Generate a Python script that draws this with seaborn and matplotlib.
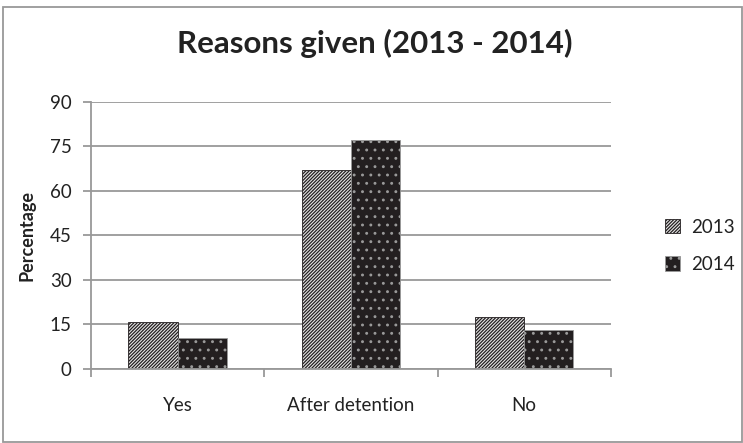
import numpy as np
import pandas as pd
import matplotlib
matplotlib.use('Agg')
import matplotlib.pyplot as plt
from matplotlib.patches import Patch, Rectangle
import seaborn as sns

# data
categories = ['Yes', 'After detention', 'No']
years = ['2013', '2014']
pct_2013 = [15.8, 66.9, 17.6]
pct_2014 = [10.4, 77.3, 13.2]

df = pd.DataFrame({
    'reason': categories * 2,
    'year': [years[0]] * 3 + [years[1]] * 3,
    'pct': pct_2013 + pct_2014,
})

sns.set_theme(style='white')
plt.rcParams['font.family'] = ['Lato', 'DejaVu Sans']
plt.rcParams['hatch.linewidth'] = 0.9

fig = plt.figure(figsize=(7.43, 4.43), dpi=100)
ax = fig.add_axes([0.1225, 0.167, 0.6995, 0.603])

sns.barplot(data=df, x='reason', y='pct', hue='year', order=categories,
            hue_order=years, width=0.57, gap=0, palette=['#d9d9d9', '#231f20'],
            legend=False, ax=ax)

styles = [dict(hatch='/' * 10, edgecolor='#231f20', fc='#e6e6e6'),
          dict(hatch='..', edgecolor='#9a9a9a', fc='#231f20')]
for cont, st in zip(ax.containers, styles):
    for bar in cont:
        bar.set_hatch(st['hatch'])
        bar.set_edgecolor(st['edgecolor'])
        bar.set_facecolor(st['fc'])
        bar.set_linewidth(0.6)

ax.set_ylim(0, 90)
ax.set_yticks(np.arange(0, 91, 15))
ax.set_xlim(-0.5, 2.5)
ax.yaxis.grid(True, color='#999999', linewidth=1.3)
ax.set_axisbelow(True)
for side in ['top', 'right']:
    ax.spines[side].set_visible(False)
for side in ['left', 'bottom']:
    ax.spines[side].set_color('#999999')
    ax.spines[side].set_linewidth(1.3)

# category-boundary ticks, Excel style
ax.set_xticks([-0.5, 0.5, 1.5, 2.5], minor=False)
ax.set_xticklabels([])
ax.set_xticks([0, 1, 2], minor=True)
ax.set_xticklabels(categories, minor=True, fontsize=13.5, color='#222222')
ax.tick_params(axis='x', which='major', length=6, width=1.3, color='#999999', direction='out')
ax.tick_params(axis='x', which='minor', length=0, pad=20)
ax.tick_params(axis='y', length=6, width=1.3, color='#999999', direction='out',
               labelsize=13.5, labelcolor='#222222', pad=8)
ax.tick_params(bottom=True, left=True)

ax.set_xlabel('')
ax.set_ylabel('Percentage', fontsize=13, fontweight='bold', color='#222222', labelpad=10)
fig.suptitle('Reasons given (2013 - 2014)', x=0.505, y=0.935, fontsize=22.5,
             fontweight='bold', color='#222222')

handles = [Patch(facecolor=styles[0]['fc'], edgecolor=styles[0]['edgecolor'],
                 hatch=styles[0]['hatch'], linewidth=0.6),
           Patch(facecolor=styles[1]['fc'], edgecolor=styles[1]['edgecolor'],
                 hatch=styles[1]['hatch'], linewidth=0.6)]
fig.legend(handles, years, loc='center left', bbox_to_anchor=(0.872, 0.445),
           frameon=False, fontsize=13.5, handlelength=0.8, handleheight=0.8,
           handletextpad=0.6, labelspacing=1.1, labelcolor='#222222')

fig.add_artist(Rectangle((0.004, 0.002), 0.994, 0.982, transform=fig.transFigure,
                         fill=False, edgecolor='#999999', linewidth=1.3))

fig.savefig('out.png', dpi=100)
